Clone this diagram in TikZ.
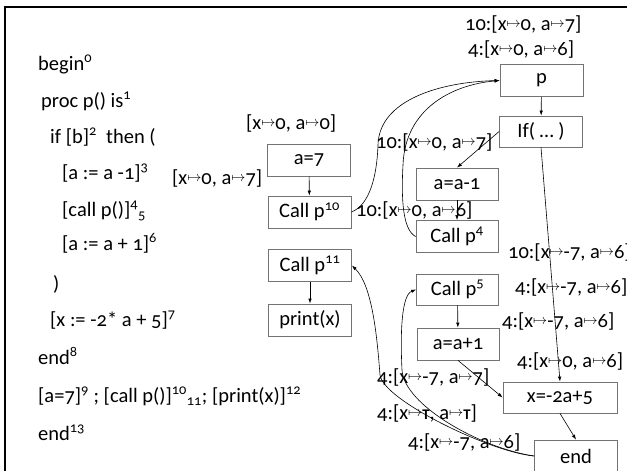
\documentclass[tikz,border=0pt]{standalone}
\usepackage{fontspec}
\setmainfont{Carlito}[Numbers=OldStyle]
\usetikzlibrary{arrows.meta}

% maps-to arrow and top value in the environment labels
\newcommand{\mto}{\raisebox{0.1em}{\scalebox{0.68}{$\mapsto$}}}
\newcommand{\topv}{\scalebox{0.72}{\bfseries T}}

\begin{document}
\begin{tikzpicture}[x=1pt,y=-1pt]

\tikzset{
  stmt/.style={
    draw=black!55,
    line width=0.8pt,
    minimum width=83pt,
    minimum height=32pt,
    inner sep=0pt,
    font=\fontsize{20.5}{24}\selectfont
  },
  codeline/.style={
    anchor=base west,
    inner sep=0pt,
    font=\fontsize{20.5}{24}\selectfont
  },
  envlabel/.style={
    anchor=west,
    inner sep=0pt,
    font=\fontsize{20.5}{24}\selectfont
  },
  flow/.style={
    -{Latex[length=5pt,width=3.5pt]},
    line width=0.6pt
  }
}

\useasboundingbox (0,0) rectangle (627,471);
\clip (0,0) rectangle (627,471);

% Slide frame
\draw[line width=2.2pt] (5,490) -- (5,7) -- (650,7);

%%%%%%%%%%%%%%%%%%%%%%%%%%%%%%%%%%%%%%%%%%%%%%%%%%%%%%%%%%%%
%% Program text
%%%%%%%%%%%%%%%%%%%%%%%%%%%%%%%%%%%%%%%%%%%%%%%%%%%%%%%%%%%%
\node[codeline] (l0) at (38,70) {begin\textsuperscript{0}};
\node[codeline] (l1) at (41,107) {proc p() is\textsuperscript{1}};
\node[codeline] (l2) at (50,143) {if [b]\textsuperscript{2}\ \ then (};
\node[codeline] (l3) at (62,179) {[a := a -1]\textsuperscript{3}};
\node[codeline] (l4) at (62,216) {[call p()]\textsuperscript{4}\textsubscript{5}};
\node[codeline] (l6) at (62,250) {[a := a + 1]\textsuperscript{6}};
\node[codeline] (lp) at (53,290) {)};
\node[codeline] (l7) at (50,326) {[x := -2* a + 5]\textsuperscript{7}};
\node[codeline] (l8) at (38,364) {end\textsuperscript{8}};
\node[codeline] (l9) at (38,402)
  {[a=7]\textsuperscript{9} ; [call p()]\textsuperscript{10}\textsubscript{11}; [print(x)]\textsuperscript{12}};
\node[codeline] (l13) at (38,440) {end\textsuperscript{13}};

%%%%%%%%%%%%%%%%%%%%%%%%%%%%%%%%%%%%%%%%%%%%%%%%%%%%%%%%%%%%
%% Main program
%%%%%%%%%%%%%%%%%%%%%%%%%%%%%%%%%%%%%%%%%%%%%%%%%%%%%%%%%%%%
\node[stmt] (a7) at (309,160) {a=7};
\node[stmt] (callp10) at (309.5,212) {Call p\textsuperscript{10}};
\node[stmt] (callp11) at (310,265.5) {Call p\textsuperscript{11}};
\node[stmt] (print) at (310,320) {print(x)};

\draw[flow] (a7) -- (callp10);
\draw[flow] (callp11) -- (print);

%%%%%%%%%%%%%%%%%%%%%%%%%%%%%%%%%%%%%%%%%%%%%%%%%%%%%%%%%%%%
%% Procedure p
%%%%%%%%%%%%%%%%%%%%%%%%%%%%%%%%%%%%%%%%%%%%%%%%%%%%%%%%%%%%
\node[stmt] (p) at (541.5,80.5) {p};
\node[stmt, minimum height=31pt] (ifb) at (541,131.5) {If( \dots\ )};
\node[stmt, minimum width=82pt] (amin) at (457,184) {a=a-1};
\node[stmt, minimum width=82pt] (callp4) at (457,236.5) {Call p\textsuperscript{4}};
\node[stmt, minimum width=82pt, minimum height=31pt] (callp5) at (457.5,289.5) {Call p\textsuperscript{5}};
\node[stmt, minimum width=82pt] (aplus) at (458,344) {a=a+1};
\node[stmt, minimum width=114pt, minimum height=31pt] (xset) at (560,397.5) {x=-2a+5};
\node[stmt] (pend) at (576,456) {end};

% Intraprocedural edges
\draw[flow] (p) -- (ifb);
\draw[flow] (ifb.west) -- (amin.north);
\draw[flow] (amin) -- (callp4);
\draw[flow] (callp5) -- (aplus);
\draw[flow] (ifb.south) -- (xset.north);
\draw[flow] (aplus.south) -- (xset.west);
\draw[flow] (xset.south) -- (pend.north);

% Call edges
\draw[flow] (callp10.east)
  .. controls (370,205) and (377,175) .. (378,145)
  .. controls (379,100) and (440,82) .. (p.west);
\draw[flow] (callp4.west)
  .. controls (403,230) and (401,200) .. (403,165)
  .. controls (405,110) and (450,85) .. (p.west);

% Return edges
\draw[flow] (pend.west)
  .. controls (490,452) and (383,400) .. (380,375)
  .. controls (377,335) and (372,285) .. (callp11.east);
\draw[flow] (pend.west)
  .. controls (480,448) and (404,405) .. (402,370)
  .. controls (400,330) and (402,295) .. (callp5.west);

%%%%%%%%%%%%%%%%%%%%%%%%%%%%%%%%%%%%%%%%%%%%%%%%%%%%%%%%%%%%
%% Environments
%%%%%%%%%%%%%%%%%%%%%%%%%%%%%%%%%%%%%%%%%%%%%%%%%%%%%%%%%%%%
\node[envlabel] (e1) at (465,24) {10:[x\mto0, a\mto7]};
\node[envlabel] (e2) at (468,49) {4:[x\mto0, a\mto6]};
\node[envlabel] (e3) at (246,123) {[x\mto0, a\mto0]};
\node[envlabel] (e4) at (172,178) {[x\mto0, a\mto7]};
\node[envlabel] (e5) at (376,142) {10:[x\mto0, a\mto7]};
\node[envlabel] (e6) at (356,210) {10:[x\mto0, a\mto6]};
\node[envlabel] (e7) at (508,252) {10:[x\mto-7, a\mto6]};
\node[envlabel] (e8) at (515,287) {4:[x\mto-7, a\mto6]};
\node[envlabel] (e9) at (502,321) {4:[x\mto-7, a\mto6]};
\node[envlabel] (e10) at (517,361) {4:[x\mto0, a\mto6]};
\node[envlabel] (e11) at (377,377) {4:[x\mto-7, a\mto7]};
\node[envlabel] (e12) at (377,413) {4:[x\mto\topv, a\mto\topv]};
\node[envlabel] (e13) at (408,442) {4:[x\mto-7, a\mto6]};

\end{tikzpicture}
\end{document}
